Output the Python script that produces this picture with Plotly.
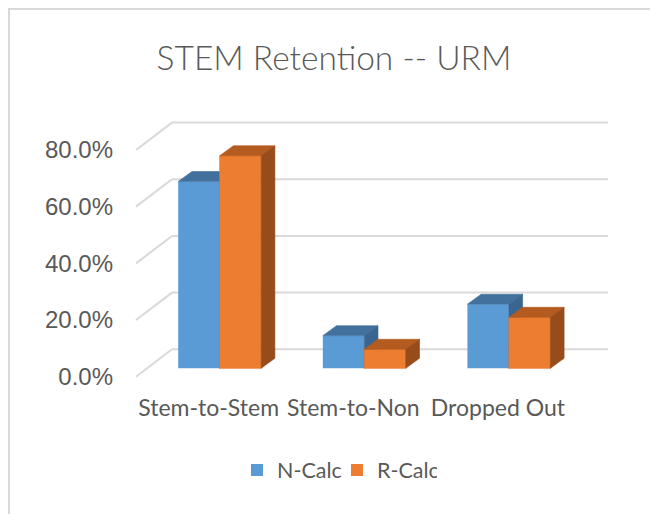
import plotly.graph_objects as go

# ---- data ----
categories = ["Stem-to-Stem", "Stem-to-Non", "Dropped Out"]
n_calc = [65.9, 11.5, 22.6]
r_calc = [75.0, 6.7, 18.0]
series_names = ["N-Calc", "R-Calc"]
y_ticks = [0, 20, 40, 60, 80]
y_tick_labels = ["0.0%", "20.0%", "40.0%", "60.0%", "80.0%"]
title_text = "STEM Retention -- URM"

# ---- geometry (reference pixels -> axis units) ----
OFF = 8                                   # page body margin
W_FIG, H_FIG = 658, 514
L, R, T, B = 120 - OFF, 620 - OFF, 110 - OFF, 390 - OFF   # plot area in page pixels
PX_X = 144.6                             # px per category unit
PX_Y = 2.834                             # px per percent
X0_PX = 219.7 - OFF                      # pixel x of category 0 centre
Y0_PX = 368.3 - OFF                      # pixel y of value 0 (bar front plane)

xmin = -(X0_PX - L) / PX_X
xmax = xmin + (R - L) / PX_X
ymin = -(B - Y0_PX) / PX_Y
ymax = ymin + (B - T) / PX_Y

def ux(px):
    return px / PX_X

def uy(px):
    return -px / PX_Y

bar_w = ux(41.5)
depth_dx, depth_dy = ux(13.7), uy(-10.0)     # bar depth
back_dx, back_dy = ux(25.0), uy(-19.0)       # back wall offset
front_dx, front_dy = ux(-11.0), uy(8.4)      # floor front edge offset
wall_left_back = (172 - OFF - X0_PX) / PX_X
wall_left_front = (136 - OFF - X0_PX) / PX_X
wall_right_back = (608 - OFF - X0_PX) / PX_X

BLUE, BLUE_TOP, BLUE_SIDE = "#5B9BD5", "#41719C", "#3A6590"
ORANGE, ORANGE_TOP, ORANGE_SIDE = "#ED7D31", "#B45B20", "#974C1B"
GRID = "#D9D9D9"
TEXT = "#595959"

fig = go.Figure()

# front faces as bars (also provide legend)
idx = list(range(len(categories)))
fig.add_trace(go.Bar(x=idx, y=n_calc, name=series_names[0], width=bar_w, offset=-bar_w,
                     marker=dict(color=BLUE, line=dict(width=0))))
fig.add_trace(go.Bar(x=idx, y=r_calc, name=series_names[1], width=bar_w, offset=0,
                     marker=dict(color=ORANGE, line=dict(width=0))))


def faces(values, offset):
    top_x, top_y, side_x, side_y, front_x, front_y = [], [], [], [], [], []
    for i, v in enumerate(values):
        x0 = i + offset
        x1 = x0 + bar_w
        top_x += [x0, x1, x1 + depth_dx, x0 + depth_dx, x0, None]
        top_y += [v, v, v + depth_dy, v + depth_dy, v, None]
        side_x += [x1, x1 + depth_dx, x1 + depth_dx, x1, x1, None]
        side_y += [0, depth_dy, v + depth_dy, v, 0, None]
        front_x += [x0, x1, x1, x0, x0, None]
        front_y += [0, 0, v, v, 0, None]
    return (top_x, top_y), (side_x, side_y), (front_x, front_y)


def poly(xy, color):
    return go.Scatter(x=xy[0], y=xy[1], mode="lines", fill="toself", fillcolor=color,
                      line=dict(color=color, width=0.6), showlegend=False, hoverinfo="skip")

b_top, b_side, b_front = faces(n_calc, -bar_w)
o_top, o_side, o_front = faces(r_calc, 0)
fig.add_trace(poly(b_top, BLUE_TOP))
fig.add_trace(poly(b_side, BLUE_SIDE))
fig.add_trace(poly(o_front, ORANGE))
fig.add_trace(poly(o_top, ORANGE_TOP))
fig.add_trace(poly(o_side, ORANGE_SIDE))

# gridlines on side wall and back wall
shapes = []
for v in y_ticks:
    shapes.append(dict(type="line", xref="x", yref="y", layer="below",
                       x0=wall_left_front, y0=v + front_dy, x1=wall_left_back, y1=v + back_dy,
                       line=dict(color=GRID, width=2)))
    shapes.append(dict(type="line", xref="x", yref="y", layer="below",
                       x0=wall_left_back, y0=v + back_dy, x1=wall_right_back, y1=v + back_dy,
                       line=dict(color=GRID, width=2)))

# outer chart border (reference pixels -> paper)
def px_paper_x(px):
    return (px - OFF - L) / (R - L)

def px_paper_y(py):
    return (B - (py - OFF)) / (B - T)

shapes.append(dict(type="line", xref="paper", yref="paper",
                   x0=px_paper_x(9), y0=px_paper_y(9), x1=px_paper_x(680), y1=px_paper_y(9),
                   line=dict(color="#D9D9D9", width=2)))
shapes.append(dict(type="line", xref="paper", yref="paper",
                   x0=px_paper_x(9), y0=px_paper_y(8), x1=px_paper_x(9), y1=px_paper_y(530),
                   line=dict(color="#D9D9D9", width=2)))

fig.update_layout(
    width=W_FIG, height=H_FIG,
    margin=dict(l=L, r=W_FIG - R, t=T, b=H_FIG - B, pad=0),
    paper_bgcolor="white", plot_bgcolor="white",
    barmode="overlay",
    shapes=shapes,
    title=dict(text=title_text, x=(334 - OFF) / W_FIG, y=1 - (58 - OFF) / H_FIG,
               xanchor="center", yanchor="middle",
               font=dict(family="Lato", size=33.5, color=TEXT, weight=300)),
    xaxis=dict(range=[xmin, xmax], showgrid=False, zeroline=False, showline=False,
               tickmode="array", tickvals=[i + front_dx for i in idx], ticktext=categories,
               tickfont=dict(family="Lato", size=23, color=TEXT), ticks="", ticklabelstandoff=2),
    yaxis=dict(range=[ymin, ymax], showgrid=False, zeroline=False, showline=False,
               tickmode="array", tickvals=[v + front_dy for v in y_ticks], ticktext=y_tick_labels,
               tickfont=dict(family="Liberation Sans", size=24, color=TEXT), ticks="", ticklabelstandoff=6),
    legend=dict(orientation="h", x=px_paper_x(337), y=px_paper_y(470), xanchor="center", yanchor="middle",
                font=dict(family="Lato", size=21.5, color=TEXT), itemwidth=30,
                entrywidth=55, entrywidthmode="pixels"),
    showlegend=True,
)

fig.write_html("out.html")
